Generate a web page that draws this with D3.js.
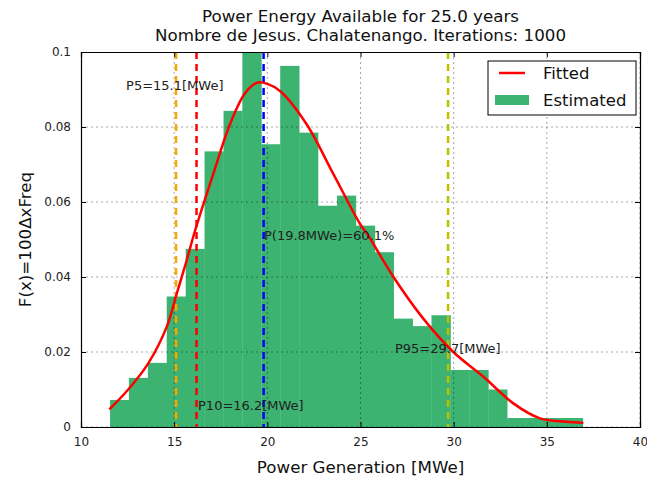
<!DOCTYPE html>
<html>
<head>
<meta charset="utf-8">
<script src="https://cdn.jsdelivr.net/npm/d3@7"></script>
<style>
  body { margin: 0; background: #fff; }
  text { font-family: "DejaVu Sans", sans-serif; }
</style>
</head>
<body>
<svg id="chart"></svg>
<script>
// histogram bin edges (MWe) and density per bin
var binEdges = [11.56, 12.57, 13.59, 14.60, 15.62, 16.63, 17.65, 18.66, 19.68, 20.69,
                21.71, 22.72, 23.74, 24.75, 25.77, 26.78, 27.80, 28.81, 29.83, 30.84,
                31.86, 32.87, 33.89, 34.90, 35.92, 36.93];
var binDensity = [0.0072, 0.0131, 0.0171, 0.0348, 0.0475, 0.0735, 0.0843, 0.1020, 0.0754, 0.0963,
                  0.0785, 0.0590, 0.0617, 0.0537, 0.0466, 0.0289, 0.0269, 0.0298, 0.0152, 0.0152,
                  0.0100, 0.0024, 0.0024, 0.0024, 0.0024];

// fitted curve
var fitX = [11.52, 12.5, 13.6, 14.6, 15.14, 15.67, 16.1, 17.1, 18.0, 18.8, 19.43, 20.0, 20.68,
            22.1, 23.54, 24.97, 25.42, 26.77, 28.37, 29.98, 31.6, 33.2, 34.64, 36.0, 36.96];
var fitY = [0.0047, 0.0098, 0.0169, 0.0267, 0.0356, 0.0444, 0.0520, 0.0675, 0.0808, 0.0890, 0.0918, 0.0915, 0.0896,
            0.0808, 0.0675, 0.0542, 0.0510, 0.0400, 0.0289, 0.0200, 0.0134, 0.0063, 0.0023, 0.0014, 0.0011];

// percentile markers
var markerNames = ["P5", "P10", "P(19.8MWe)", "P95"];
var markerX = [15.1, 16.2, 19.8, 29.7];
var markerColor = ["#ffa500", "#ff0000", "#0000ff", "#bfbf00"];

// annotation texts and their anchor (data coordinates)
var noteText = ["P5=15.1[MWe]", "P10=16.2[MWe]", "P(19.8MWe)=60.1%", "P95=29.7[MWe]"];
var noteX = [12.42, 16.28, 19.82, 26.85];
var noteY = [0.0899, 0.0045, 0.0500, 0.0197];

var xTicks = [10, 15, 20, 25, 30, 35, 40];
var yTicks = [0, 0.02, 0.04, 0.06, 0.08, 0.1];

var width = 647, height = 478;
var margin = {top: 52, right: 7, bottom: 51, left: 81};
var in_width = width - margin.left - margin.right;
var in_height = height - margin.top - margin.bottom;

var svg = d3.select('#chart')
    .attr('width', width)
    .attr('height', height);

var xScale = d3.scaleLinear().domain([10, 40]).range([0, in_width]);
var yScale = d3.scaleLinear().domain([0, 0.1]).range([in_height, 0]);

svg.append('defs').append('clipPath').attr('id', 'clip')
    .append('rect').attr('width', in_width).attr('height', in_height);

var g = svg.append('g')
    .attr('transform', 'translate(' + margin.left + ',' + margin.top + ')');

var plot = g.append('g').attr('clip-path', 'url(#clip)');

// bars
plot.selectAll('.bar')
    .data(binDensity)
    .enter().append('rect')
    .attr('class', 'bar')
    .attr('x', function (d, i) { return xScale(binEdges[i]); })
    .attr('width', function (d, i) { return xScale(binEdges[i + 1]) - xScale(binEdges[i]) + 0.3; })
    .attr('y', function (d) { return yScale(d); })
    .attr('height', function (d) { return in_height - yScale(d); })
    .attr('fill', '#3cb371');

// grid (drawn above the bars, dotted)
plot.selectAll('.gx').data(xTicks).enter().append('line')
    .attr('x1', function (d) { return xScale(d); })
    .attr('x2', function (d) { return xScale(d); })
    .attr('y1', 0).attr('y2', in_height)
    .attr('stroke', '#000').attr('stroke-opacity', 0.35)
    .attr('stroke-width', 1).attr('stroke-dasharray', '2,3');
plot.selectAll('.gy').data(yTicks).enter().append('line')
    .attr('y1', function (d) { return yScale(d); })
    .attr('y2', function (d) { return yScale(d); })
    .attr('x1', 0).attr('x2', in_width)
    .attr('stroke', '#000').attr('stroke-opacity', 0.35)
    .attr('stroke-width', 1).attr('stroke-dasharray', '2,3');

// percentile lines
plot.selectAll('.marker').data(markerX).enter().append('line')
    .attr('x1', function (d) { return xScale(d); })
    .attr('x2', function (d) { return xScale(d); })
    .attr('y1', 0).attr('y2', in_height)
    .attr('stroke', function (d, i) { return markerColor[i]; })
    .attr('stroke-width', 2.5)
    .attr('stroke-dasharray', '7,5');

// fitted curve
var line = d3.line()
    .x(function (d) { return xScale(d[0]); })
    .y(function (d) { return yScale(d[1]); })
    .curve(d3.curveCatmullRom);
plot.append('path')
    .datum(fitX.map(function (x, i) { return [x, fitY[i]]; }))
    .attr('d', line)
    .attr('fill', 'none')
    .attr('stroke', '#ff0000')
    .attr('stroke-width', 2.5);

// annotations
g.selectAll('.note').data(noteText).enter().append('text')
    .attr('x', function (d, i) { return xScale(noteX[i]); })
    .attr('y', function (d, i) { return yScale(noteY[i]); })
    .style('font-size', '13px')
    .attr('fill', '#222')
    .text(function (d) { return d; });

// axes with inward ticks on all four sides
var xAxis = g.append('g')
    .attr('transform', 'translate(0,' + in_height + ')')
    .call(d3.axisBottom(xScale).tickValues(xTicks).tickSize(-5).tickPadding(10).tickFormat(d3.format('d')));
var yAxis = g.append('g')
    .call(d3.axisLeft(yScale).tickValues(yTicks).tickSize(-5).tickPadding(10).tickFormat(d3.format('~g')));
var xTop = g.append('g')
    .call(d3.axisTop(xScale).tickValues(xTicks).tickSize(-5).tickFormat(''));
var yRight = g.append('g')
    .attr('transform', 'translate(' + in_width + ',0)')
    .call(d3.axisRight(yScale).tickValues(yTicks).tickSize(-5).tickFormat(''));
[xAxis, yAxis, xTop, yRight].forEach(function (a) {
    a.selectAll('.domain').attr('stroke', '#000').attr('stroke-width', 1.2);
    a.selectAll('.tick line').attr('stroke', '#000');
    a.selectAll('.tick text').style('font-size', '12px').attr('fill', '#222');
});

// titles
svg.append('text')
    .attr('x', margin.left + in_width / 2).attr('y', 22)
    .attr('text-anchor', 'middle').style('font-size', '16.7px').attr('fill', '#111')
    .text('Power Energy Available for 25.0 years');
svg.append('text')
    .attr('x', margin.left + in_width / 2).attr('y', 41)
    .attr('text-anchor', 'middle').style('font-size', '16.7px').attr('fill', '#111')
    .text('Nombre de Jesus. Chalatenango. Iterations: 1000');

svg.append('text')
    .attr('x', margin.left + in_width / 2).attr('y', 473)
    .attr('text-anchor', 'middle').style('font-size', '16.7px').attr('fill', '#111')
    .text('Power Generation [MWe]');
svg.append('text')
    .attr('transform', 'translate(31,' + (margin.top + in_height / 2) + ') rotate(-90)')
    .attr('text-anchor', 'middle').style('font-size', '16.7px').attr('fill', '#111')
    .text('F(x)=100ΔxFreq');

// legend
var legend = svg.append('g').attr('transform', 'translate(488,61)');
legend.append('rect')
    .attr('width', 148).attr('height', 54)
    .attr('fill', '#fff').attr('stroke', '#000').attr('stroke-width', 1);
legend.append('line')
    .attr('x1', 11).attr('x2', 37).attr('y1', 12).attr('y2', 12)
    .attr('stroke', '#ff0000').attr('stroke-width', 2.5);
legend.append('rect')
    .attr('x', 7).attr('y', 34).attr('width', 34).attr('height', 10)
    .attr('fill', '#3cb371');
legend.append('text').attr('x', 55).attr('y', 18)
    .style('font-size', '16.5px').attr('fill', '#111').text('Fitted');
legend.append('text').attr('x', 55).attr('y', 45)
    .style('font-size', '16.5px').attr('fill', '#111').text('Estimated');
</script>
</body>
</html>
